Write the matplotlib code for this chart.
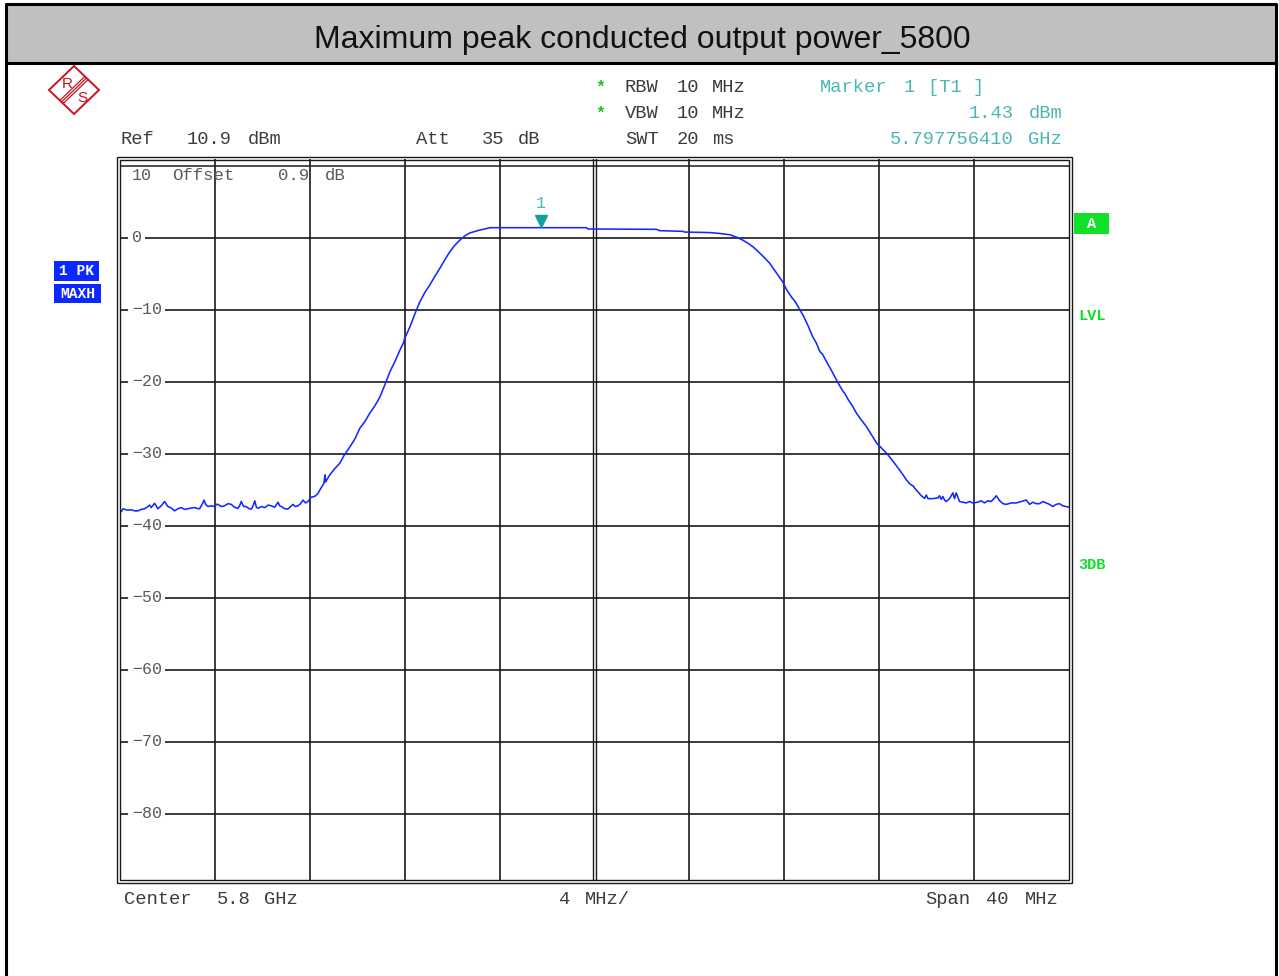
import matplotlib.pyplot as plt
import matplotlib.transforms as mtransforms
from matplotlib.patches import Rectangle, Polygon
from matplotlib.lines import Line2D

W, H = 1279, 976

# trace: offset from 5.8 GHz centre (MHz), level (dBm)
freq_mhz = [
    -20.00, -19.93, -19.86, -19.79, -19.65, -19.51, -19.37, -19.23, -19.09, -18.95,
    -18.85, -18.74, -18.67, -18.53, -18.39, -18.25, -18.11, -17.97, -17.83, -17.69,
    -17.55, -17.40, -17.26, -17.12, -16.98, -16.84, -16.70, -16.63, -16.50, -16.45,
    -16.38, -16.28, -16.14, -16.00, -15.93, -15.86, -15.72, -15.58, -15.44, -15.30,
    -15.16, -15.02, -14.95, -14.88, -14.78, -14.67, -14.55, -14.45, -14.38, -14.31,
    -14.24, -14.17, -14.03, -13.89, -13.75, -13.61, -13.47, -13.33, -13.26, -13.19,
    -13.05, -12.91, -12.80, -12.70, -12.60, -12.49, -12.38, -12.28, -12.17, -12.07,
    -11.93, -11.79, -11.65,
    -11.57, -11.40, -11.35, -11.33, -11.15, -10.93, -10.72, -10.55, -10.30, -10.09,
    -9.88, -9.67, -9.46, -9.25, -9.04, -8.83, -8.62, -8.41, -8.20, -8.05,
    -7.99, -7.78, -7.57, -7.36, -7.15, -6.93, -6.72, -6.51, -6.30, -6.09,
    -5.88, -5.67, -5.46, -5.25, -5.04, -4.83, -4.62, -4.41,
    -2.24, -0.34, -0.28, 1.50, 2.61, 2.75, 3.72, 3.80, 4.86, 5.30,
    5.70, 6.00, 6.25, 6.45, 6.67, 6.90, 7.15, 7.38, 7.55, 7.70,
    7.93, 8.10, 8.30, 8.47, 8.64, 8.80, 9.00, 9.19, 9.35, 9.50,
    9.60, 9.78, 10.00, 10.24, 10.45, 10.55, 10.70, 10.88, 11.05, 11.20,
    11.46, 11.70, 11.89, 12.10, 12.31, 12.55, 12.85, 13.00, 13.14, 13.30,
    13.45, 13.50, 13.56,
    13.77, 13.91, 13.98, 14.05, 14.26, 14.47, 14.54, 14.61, 14.68, 14.75,
    14.82, 14.96, 15.10, 15.17, 15.24, 15.38, 15.52, 15.66, 15.80, 15.94,
    16.15, 16.29, 16.43, 16.57, 16.71, 16.86, 16.93, 17.07, 17.21, 17.35,
    17.56, 17.77, 17.98, 18.19, 18.33, 18.47, 18.61, 18.75, 18.89, 19.03,
    19.17, 19.31, 19.45, 19.59, 19.73, 19.87, 20.00,
]
level_dbm = [
    -37.9, -38.0, -37.6, -37.7, -37.8, -37.75, -37.9, -37.9, -37.7, -37.6,
    -37.4, -37.1, -37.45, -36.85, -37.6, -37.2, -36.6, -37.3, -37.5, -37.9,
    -37.6, -37.45, -37.7, -37.6, -37.5, -37.45, -37.6, -37.6, -36.8, -36.4,
    -37.0, -37.3, -37.2, -37.3, -37.0, -37.0, -37.3, -37.2, -36.9, -37.0,
    -37.4, -37.55, -37.2, -36.6, -37.3, -37.3, -37.6, -37.65, -37.2, -36.5,
    -37.4, -37.55, -37.3, -37.45, -37.1, -37.2, -37.4, -36.7, -37.2, -37.3,
    -37.6, -37.65, -37.3, -37.0, -37.3, -37.2, -36.9, -36.4, -36.8, -36.6,
    -36.0, -35.9, -35.5,
    -35.0, -34.1, -32.9, -33.9, -32.9, -32.0, -31.25, -30.2, -29.0, -27.9,
    -26.4, -25.5, -24.3, -23.3, -22.1, -20.4, -18.6, -17.2, -15.6, -14.6,
    -13.9, -12.4, -10.6, -8.9, -7.6, -6.5, -5.3, -4.2, -3.0, -1.9,
    -1.0, -0.3, 0.3, 0.7, 0.9, 1.1, 1.25, 1.43,
    1.43, 1.43, 1.25, 1.22, 1.2, 1.02, 0.92, 0.82, 0.75, 0.62,
    0.45, 0.1, -0.3, -0.7, -1.2, -1.9, -2.7, -3.5, -4.3, -5.0,
    -6.1, -7.2, -8.2, -8.9, -9.9, -10.8, -12.2, -13.7, -14.6, -15.8,
    -16.1, -17.2, -18.5, -20.0, -21.2, -21.6, -22.5, -23.4, -24.4, -25.1,
    -26.2, -27.5, -28.5, -29.2, -29.9, -30.9, -32.2, -32.9, -33.6, -34.2,
    -34.5, -34.8, -35.0,
    -35.8, -36.16, -35.7, -36.2, -36.2, -36.1, -35.8, -36.3, -35.9, -36.4,
    -36.6, -36.2, -35.4, -36.2, -35.4, -36.6, -36.7, -36.8, -36.6, -36.8,
    -36.7, -36.5, -36.8, -36.5, -36.6, -36.1, -35.8, -36.5, -36.9, -37.0,
    -36.8, -36.8, -36.6, -36.4, -37.0, -36.7, -36.9, -36.9, -36.6, -36.8,
    -37.0, -37.3, -37.0, -36.9, -37.2, -37.3, -37.4,
]

level_ticks = [0, -10, -20, -30, -40, -50, -60, -70, -80]
freq_grid = [-16, -12, -8, -4, 4, 8, 12, 16]

marker_freq = -2.24359   # 5.797756410 GHz
marker_level = 1.43
ref_level = 10.9

mono = 'Liberation Mono'
gray = '#3c3c3c'
tick_gray = '#5a5a5a'
teal = '#4ab6b6'
green = '#12dc2a'
grid_c = '#1a1a1a'

fig = plt.figure(figsize=(W / 100, H / 100), dpi=100)


def ftext(x, y, s, **kw):
    kw.setdefault('family', mono)
    kw.setdefault('va', 'center')
    kw.setdefault('fontsize', 13.5)
    kw.setdefault('color', gray)
    fig.text(x / W, 1 - y / H, s, **kw)


def frect(x0, y0, x1, y1, **kw):
    fig.patches.append(Rectangle((x0 / W, 1 - y1 / H), (x1 - x0) / W, (y1 - y0) / H,
                                 transform=fig.transFigure, **kw))


def fline(xs, ys, **kw):
    fig.lines.append(Line2D([x / W for x in xs], [1 - y / H for y in ys],
                            transform=fig.transFigure, **kw))


# title band and outer border
frect(6, 4, 1276, 63, facecolor='#c0c0c0', edgecolor='none')
fline([6, 1276], [63, 63], color='black', lw=2.2)
fline([6, 6, 1276, 1276], [976, 4, 4, 976], color='black', lw=2.2)
ftext(642, 40, 'Maximum peak conducted output power_5800', family='Liberation Sans',
      fontsize=23, color='#111111', ha='center')

# R&S logo
red = '#c8141e'
cx, cy = 74, 90
fig.patches.append(Polygon([(cx / W, 1 - (cy - 24) / H), ((cx + 25) / W, 1 - cy / H),
                            (cx / W, 1 - (cy + 24) / H), ((cx - 25) / W, 1 - cy / H)],
                           closed=True, fill=False, edgecolor=red, lw=1.4,
                           transform=fig.transFigure))
for d in (-1.6, 0, 1.6):
    fline([86.5 + d, 61.5 + d], [78 + d, 102 + d], color=red, lw=0.9)
ftext(67, 84, 'R', family='Liberation Sans', fontsize=11, color=red, ha='center')
ftext(82, 98, 'S', family='Liberation Sans', fontsize=11, color=red, ha='center')

# header info
for x, s in [(121, 'Ref'), (187, '10.9'), (248, 'dBm'), (416, 'Att'), (482, '35'), (518, 'dB')]:
    ftext(x, 139, s)
for x, s in [(625, 'RBW'), (677, '10'), (712, 'MHz')]:
    ftext(x, 87, s)
for x, s in [(625, 'VBW'), (677, '10'), (712, 'MHz')]:
    ftext(x, 113, s)
for x, s in [(625, 'SWT'), (677, '20'), (712, 'ms')]:
    ftext(x, 139, s)
ftext(605, 87, '*', color='#20c020', ha='right', fontsize=12, weight='bold')
ftext(605, 113, '*', color='#20c020', ha='right', fontsize=12, weight='bold')
for x, s in [(820, 'Marker'), (904, '1'), (928, '[T1 ]')]:
    ftext(x, 87, s, color=teal)
ftext(1062, 113, 'dBm', color=teal, ha='right')
ftext(1014, 113, '1.43', color=teal, ha='right')
ftext(1062, 139, 'GHz', color=teal, ha='right')
ftext(1014, 139, '5.797756410', color=teal, ha='right')

# footer
for x, s in [(124, 'Center'), (217, '5.8'), (264, 'GHz'), (559, '4'), (585, 'MHz/'),
             (925, 'Span'), (986, '40'), (1025, 'MHz')]:
    ftext(x, 900, s)

# side annotations
frect(54, 261, 99, 281, facecolor='#0a28ff', edgecolor='none')
frect(54, 284, 101, 303, facecolor='#0a28ff', edgecolor='none')
ftext(76.5, 271, '1 PK', color='white', weight='bold', fontsize=10.5, ha='center')
ftext(77.5, 293.5, 'MAXH', color='white', weight='bold', fontsize=10.5, ha='center')
frect(1074, 213, 1109, 234, facecolor='#10e028', edgecolor='none')
ftext(1091.5, 224, 'A', color='white', weight='bold', fontsize=11, ha='center')
ftext(1092, 316, 'LVL', color=green, weight='bold', fontsize=11, ha='center')
ftext(1092, 565, '3DB', color=green, weight='bold', fontsize=11, ha='center')

# measurement diagram
x0, x1, ytop, ybot = 119.7, 1069.2, 159.5, 879.5
ax = fig.add_axes([x0 / W, 1 - ybot / H, (x1 - x0) / W, (ybot - ytop) / H])
ax.set_xlim(-20, 20)
ax.set_ylim(ref_level - 100, ref_level)
ax.set_axis_off()

for f in freq_grid:
    ax.axvline(f, color=grid_c, lw=1.2, zorder=1)
for f in (-0.065, 0.065):
    ax.axvline(f, color=grid_c, lw=1.0, zorder=1)
ax.axhline(10, color=grid_c, lw=1.1, zorder=1)
for v in level_ticks:
    ax.axhline(v, color=grid_c, lw=1.2, zorder=1)
    ax.annotate(str(v).replace('-', '\u2212'), xy=(-20, v), xytext=(12, 0),
                textcoords='offset pixels', ha='left', va='center', family=mono,
                fontsize=12, color=tick_gray, zorder=3,
                bbox=dict(boxstyle='square,pad=0.2', fc='white', ec='none'))
ftext(132, 175, '10', fontsize=12, color=tick_gray)
for x, s in [(172, 'Offset'), (278, '0.9'), (325, 'dB')]:
    ftext(x, 175, s, fontsize=12.5, color=tick_gray)

ax.plot(freq_mhz, level_dbm, color='#1428ff', lw=1.15, zorder=4)

up = mtransforms.offset_copy(ax.transData, fig=fig, x=0, y=7, units='dots')
ax.plot([marker_freq], [marker_level], marker='v', color='#12a09c', markersize=8,
        transform=up, zorder=5, clip_on=False)
ax.annotate('1', xy=(marker_freq, marker_level), xytext=(0, 24), textcoords='offset pixels',
            ha='center', va='center', family=mono, fontsize=12, color=teal)

# double frame
frect(x0, ytop, x1, ybot, facecolor='none', edgecolor=grid_c, lw=1.0)
frect(x0 - 3, ytop - 3, x1 + 3, ybot + 3, facecolor='none', edgecolor=grid_c, lw=1.0)

plt.savefig('out.png', dpi=100)
